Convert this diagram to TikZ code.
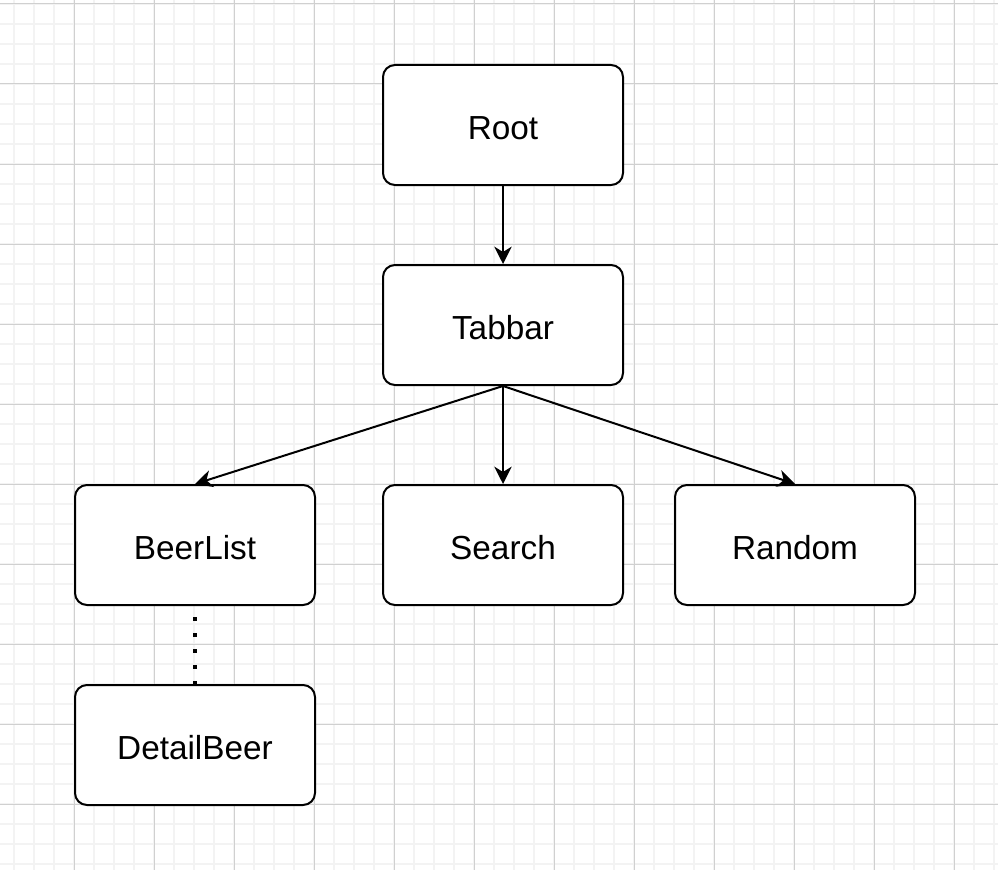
\documentclass[tikz,border=0pt]{standalone}
\usepackage{fontspec}
\setmainfont{Liberation Sans}
\usetikzlibrary{arrows.meta}
\begin{document}
\begin{tikzpicture}[x=0.75pt,y=-0.75pt,
  box/.style={draw=black,line width=1.5pt,rounded corners=9pt,fill=white,
    minimum width=180pt,minimum height=90pt,inner sep=0pt},
  lbl/.style={inner sep=0pt,font=\fontsize{25pt}{29pt}\selectfont},
  link/.style={draw=black,line width=1.5pt,-{Stealth[length=13pt,width=13pt,inset=4pt]}},
  dots/.style={draw=black,line width=3pt,dash pattern=on 3pt off 9pt,dash phase=3.75pt},
  minorgrid/.style={draw={rgb,255:red,243;green,243;blue,243},line width=1pt},
  majorgrid/.style={draw={rgb,255:red,208;green,208;blue,208},line width=0.75pt}]
\useasboundingbox[fill=white] (0,0) rectangle (998,870);
% grid
\foreach \x in {14,34,...,994} \draw[minorgrid] (\x,0) -- (\x,870);
\foreach \y in {4,24,...,864} \draw[minorgrid] (0,\y) -- (998,\y);
\foreach \x in {74,154,...,994} \draw[majorgrid] (\x,0) -- (\x,870);
\foreach \y in {4,84,...,864} \draw[majorgrid] (0,\y) -- (998,\y);
% nodes
\node[box] (root) at (503,125) {};
\node[box] (tabbar) at (503,325) {};
\node[box] (beerlist) at (195,545) {};
\node[box] (search) at (503,545) {};
\node[box] (random) at (795,545) {};
\node[box] (detail) at (195,745) {};
\node[lbl] (rootlbl) at ([yshift=-2.2pt]root.center) {Root};
\node[lbl] (tabbarlbl) at ([yshift=-2.2pt]tabbar.center) {Tabbar};
\node[lbl] (beerlistlbl) at ([yshift=-2.2pt]beerlist.center) {BeerList};
\node[lbl] (searchlbl) at ([yshift=-2.2pt]search.center) {Search};
\node[lbl] (randomlbl) at ([yshift=-2.2pt]random.center) {Random};
\node[lbl] (detaillbl) at ([yshift=-2.2pt]detail.center) {DetailBeer};
% connectors
\draw[link] (root.south) -- (tabbar.north);
\draw[link] (tabbar.south) -- (beerlist.north);
\draw[link] (tabbar.south) -- (search.north);
\draw[link] (tabbar.south) -- (random.north);
\draw[dots] (beerlist.south) -- (detail.north);
\end{tikzpicture}
\end{document}
